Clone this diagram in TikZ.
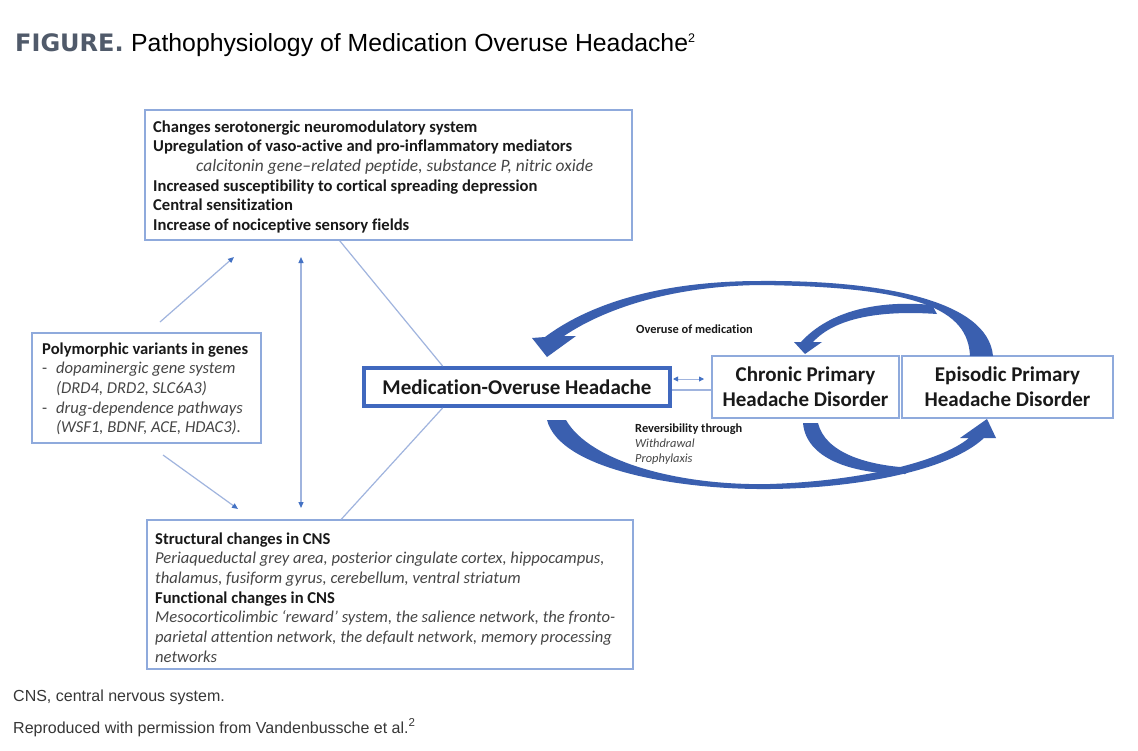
\documentclass[tikz,border=0pt]{standalone}
\usepackage{fontspec}
\setmainfont{Carlito}[Ligatures={NoCommon}]
\newfontfamily\titlefont{Liberation Sans}
\newfontfamily\figfont{DejaVu Sans}
\usetikzlibrary{arrows.meta,calc}
\definecolor{boxblue}{RGB}{143,170,220}
\definecolor{mohblue}{RGB}{64,104,190}
\definecolor{arrowblue}{RGB}{58,95,175}
\definecolor{connblue}{RGB}{160,180,222}
\definecolor{headblue}{RGB}{68,114,196}
\definecolor{txt}{RGB}{25,25,25}
\definecolor{itxt}{RGB}{70,70,70}
\definecolor{figgray}{RGB}{80,90,106}
\definecolor{foot}{RGB}{55,55,55}
\newcommand\fsz[1]{\fontsize{#1}{#1}\selectfont}
\begin{document}
\begin{tikzpicture}[x=1pt,y=-1pt,
  thinbox/.style={draw=boxblue, line width=1.4pt, inner sep=0},
  mohbox/.style={draw=mohblue, line width=4pt, inner sep=0, font=\bfseries\fsz{21}, text=txt},
  dbox/.style={draw=boxblue, line width=1.4pt, inner sep=0, align=center, font=\bfseries\fontsize{21}{25}\selectfont, text=txt},
  bl/.style={anchor=base west, inner sep=0, font=\bfseries\fsz{16.6}, text=txt},
  il/.style={anchor=base west, inner sep=0, font=\itshape\fsz{16.6}, text=itxt},
  lab/.style={anchor=base west, inner sep=0, font=\bfseries\fsz{12.4}, text=txt},
  ilab/.style={anchor=base west, inner sep=0, font=\itshape\fsz{12.4}, text=itxt},
  conn/.style={draw=connblue, line width=1.2pt},
  tipend/.style={-{Triangle[length=6pt,width=5pt,color=headblue]}},
  tipboth/.style={{Triangle[length=6pt,width=5pt,color=headblue]}-{Triangle[length=6pt,width=5pt,color=headblue]}},
  bigarrow/.style={fill=arrowblue, draw=none}
]
\path[fill=white] (0,0) rectangle (1138,750);
\useasboundingbox (0,0) rectangle (1138,750);

% title
\node[anchor=base west, inner sep=0, font=\figfont\bfseries\fsz{24}, text=figgray] (fig) at (15,51) {FIGURE.};
\node[anchor=base west, inner sep=0, font=\titlefont\fsz{24.8}, text=black] (ttl) at (131,51) {Pathophysiology of Medication Overuse Headache\raisebox{8.5pt}{\fsz{12.5}2}};

% boxes
\node[thinbox, minimum width=487pt, minimum height=130pt] (top) at (388.5,175) {};
\node[thinbox, minimum width=229pt, minimum height=110pt] (poly) at (146.5,388) {};
\node[thinbox, minimum width=486pt, minimum height=149pt] (bot) at (390,594.5) {};
\node[mohbox, minimum width=306pt, minimum height=38pt] (moh) at (517,387) {Medication-Overuse Headache};
\node[dbox, minimum width=187pt, minimum height=62pt] (chr) at (805.5,387) {Chronic Primary\\Headache Disorder};
\node[dbox, minimum width=211pt, minimum height=62pt] (epi) at (1007.5,387) {Episodic Primary\\Headache Disorder};

% top box text
\node[bl] (t1) at (153,132) {Changes serotonergic neuromodulatory system};
\node[bl] (t2) at (153,151.7) {Upregulation of vaso-active and pro-inflammatory mediators};
\node[il, font=\itshape\fsz{17.4}] (t3) at (196,171.4) {calcitonin gene–related peptide, substance P, nitric oxide};
\node[bl] (t4) at (153,191.1) {Increased susceptibility to cortical spreading depression};
\node[bl] (t5) at (153,210.8) {Central sensitization};
\node[bl] (t6) at (153,230.5) {Increase of nociceptive sensory fields};

% polymorphic text
\node[bl] (p1) at (42,354) {Polymorphic variants in genes};
\node[il, font=\fsz{16.6}] (p2d) at (42,373.7) {-};
\node[il] (p2) at (56,373.7) {dopaminergic gene system};
\node[il] (p3) at (56,393.4) {(DRD4, DRD2, SLC6A3)};
\node[il, font=\fsz{16.6}] (p4d) at (42,413.1) {-};
\node[il] (p4) at (56,413.1) {drug-dependence pathways};
\node[il] (p5) at (56,432.8) {(WSF1, BDNF, ACE, HDAC3).};

% bottom box text
\node[bl] (b1) at (155,544) {Structural changes in CNS};
\node[il] (b2) at (155,563.7) {Periaqueductal grey area, posterior cingulate cortex, hippocampus,};
\node[il] (b3) at (155,583.4) {thalamus, fusiform gyrus, cerebellum, ventral striatum};
\node[bl] (b4) at (155,603.1) {Functional changes in CNS};
\node[il] (b5) at (155,622.8) {Mesocorticolimbic ‘reward’ system, the salience network, the fronto-};
\node[il] (b6) at (155,642.5) {parietal attention network, the default network, memory processing};
\node[il] (b7) at (155,662.2) {networks};

% thin connectors
\draw[conn] ($(top.south west)!0.4!(top.south east)$) -- ($(moh.north west)!0.26!(moh.north east)$);
\draw[conn] ($(moh.south west)!0.26!(moh.south east)$) -- ($(bot.north west)!0.4!(bot.north east)$);
\coordinate (pa1) at (160,322);
\coordinate (pa2) at (234,257);
\coordinate (pb1) at (163,455);
\coordinate (pb2) at (238,509);
\coordinate (va) at (301,257);
\coordinate (vb) at (301,508);
\coordinate (da) at (673,379);
\coordinate (db) at (704,379);
\draw[conn, tipend] (pa1) -- (pa2);
\draw[conn, tipend] (pb1) -- (pb2);
\draw[conn, tipboth] (va) -- (vb);
\draw[conn, line width=0.9pt, {Triangle[length=5pt,width=5pt,color=headblue]}-{Triangle[length=5pt,width=5pt,color=headblue]}] (da) -- (db);
\draw[conn] ($(moh.east)+(0,3)$) -- ($(chr.west)+(0,3)$);

% big curved arrows
% Episodic -> MOH (top)
\fill[bigarrow] (970,356) .. controls (968,310) and (920,287) .. (760,285)
  .. controls (680,286) and (610,305) .. (564,336) -- (576,336) -- (547,357) -- (532,338) -- (545,337)
  .. controls (600,296) and (680,281) .. (760,281)
  .. controls (880,280) and (988,300) .. (993,356) -- cycle;
% Episodic -> Chronic (top)
\fill[bigarrow] (932,305) .. controls (880,300) and (830,310) .. (801,342) -- (794,342) -- (805,354) -- (822,342) -- (813,342)
  .. controls (835,318) and (880,310) .. (937,314) -- cycle;
% MOH -> Episodic (bottom)
\fill[bigarrow] (547,420) .. controls (560,470) and (680,490) .. (770,489)
  .. controls (860,488) and (950,470) .. (984,438) -- (996,438) -- (987,419) -- (960,438) -- (969,438)
  .. controls (940,462) and (860,481) .. (770,484)
  .. controls (680,486) and (590,462) .. (566,420) -- cycle;
% Chronic -> Episodic (bottom)
\fill[bigarrow] (803,423) .. controls (806,458) and (850,474) .. (905,474) -- (915,468)
  .. controls (865,466) and (825,452) .. (818,423) -- cycle;

% arrow labels
\node[lab] (ov) at (636,333) {Overuse of medication};
\node[lab] (rv) at (635,432) {Reversibility through};
\node[ilab] (wd) at (635,447) {Withdrawal};
\node[ilab] (pr) at (635,462) {Prophylaxis};

% footnotes
\node[anchor=base west, inner sep=0, font=\titlefont\fsz{16}, text=foot] (fn1) at (13,701) {CNS, central nervous system.};
\node[anchor=base west, inner sep=0, font=\titlefont\fsz{16}, text=foot] (fn2) at (13,733) {Reproduced with permission from Vandenbussche et al.\raisebox{7pt}{\fsz{11.5}2}};
\end{tikzpicture}
\end{document}
